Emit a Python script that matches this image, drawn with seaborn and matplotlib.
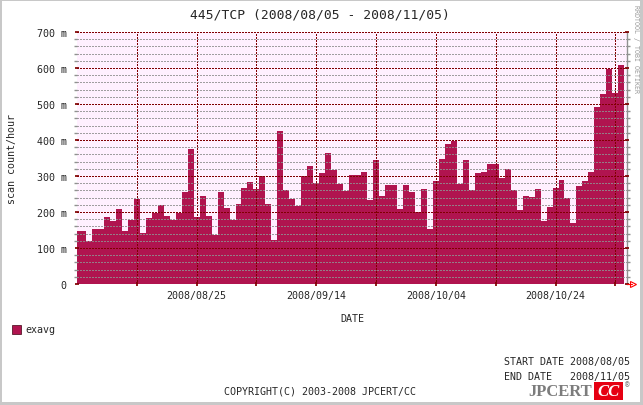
import numpy as np
import pandas as pd
import matplotlib
matplotlib.use("Agg")
import matplotlib.pyplot as plt
import seaborn as sns
from matplotlib.patches import Rectangle
from matplotlib.lines import Line2D

# daily averages, 2008/08/05 .. 2008/11/04 (milli scans per hour)
start_date = "2008-08-05"
exavg = [147, 147, 120, 153, 153, 186, 176, 208, 147, 178,
         236, 142, 183, 197, 219, 189, 179, 197, 256, 376,
         186, 245, 189, 137, 256, 211, 179, 222, 267, 284,
         264, 299, 222, 121, 425, 262, 236, 217, 299, 329,
         280, 309, 364, 316, 277, 257, 304, 302, 312, 234,
         345, 245, 276, 276, 208, 276, 256, 200, 264, 153,
         287, 348, 390, 396, 279, 345, 262, 309, 312, 332,
         334, 295, 320, 260, 206, 245, 241, 264, 176, 214,
         267, 289, 240, 170, 273, 287, 312, 493, 527, 598,
         530, 608]
date_labels = ["2008/08/25", "2008/09/14", "2008/10/04", "2008/10/24"]
y_ticks = [0, 100, 200, 300, 400, 500, 600, 700]

dates = pd.date_range(start_date, periods=len(exavg), freq="D")
df = pd.DataFrame({"date": dates, "exavg": exavg})
df["day"] = (df["date"] - df["date"].iloc[0]).dt.days

BAR = "#b0144f"
MAJ = "#800000"
MINOR = "#909090"
W, H = 643, 406

sns.set_theme(style="white")
plt.rcParams["font.family"] = ["DejaVu Sans Mono", "DejaVu Sans"]
plt.rcParams["font.size"] = 7.2

fig = plt.figure(figsize=(W / 100, H / 100), dpi=100)
fig.patch.set_facecolor("white")

# grey frame round the picture
for (x0, y0, w, h) in [(0, 0, W, 3), (0, H - 2, W, 2), (0, 0, 2, H), (W - 3, 0, 3, H)]:
    fig.add_artist(Rectangle((x0 / W, y0 / H), w / W, h / H, transform=fig.transFigure,
                             facecolor="#c8c8c8", edgecolor="none"))

ax = fig.add_axes([77 / W, (H - 285) / H, 550.3 / W, 252 / H])
ax.set_facecolor("#fff0ff")

sns.barplot(data=df, x="day", y="exavg", native_scale=True, width=1, color=BAR,
            saturation=1, linewidth=0, edgecolor="none", errorbar=None, ax=ax)

ax.set_xlim(0, 92)
ax.set_ylim(0, 700)

# grid drawn on top of the bars, like rrdtool
ax.set_axisbelow(False)
ax.set_yticks(y_ticks)
ax.set_yticklabels([("%d m" % v) if v else "0" for v in y_ticks])
ax.set_yticks(np.arange(0, 701, 20), minor=True)
major_days = list(range(10, 92, 10))
ax.set_xticks(major_days)
lab = {20 + 20 * i: t for i, t in enumerate(date_labels)}
ax.set_xticklabels([lab.get(d, "") for d in major_days])
ax.grid(which="major", axis="both", color=MAJ, linestyle=(0, (1, 1)), linewidth=0.75,
        antialiased=False)
ax.grid(which="minor", axis="y", color=MINOR, linestyle=(0, (1, 1)), linewidth=0.75,
        antialiased=False, alpha=0.85)

ax.tick_params(axis="y", which="major", length=3, color=MAJ, pad=6, labelsize=7.2,
               left=True, right=True, direction="inout")
ax.tick_params(axis="y", which="minor", length=2, color=MINOR, left=True, right=True)
ax.tick_params(axis="x", which="major", length=3, color=MAJ, pad=3, labelsize=7.2,
               bottom=True, direction="inout")
ax.set_xlabel("DATE", fontsize=7.2, labelpad=9)
ax.set_ylabel("scan count/hour", fontsize=7.2, labelpad=14)
for s in ["top", "bottom", "left"]:
    ax.spines[s].set_visible(False)
ax.spines["right"].set_color("#909090")
ax.spines["right"].set_linewidth(1)

# small red arrow at the end of the time axis
fig.add_artist(Line2D([627 / W, 632 / W], [(H - 285) / H] * 2, transform=fig.transFigure,
                      color="red", linewidth=0.8))
fig.add_artist(Line2D([633 / W], [(H - 285) / H], transform=fig.transFigure, marker=">",
                      markersize=5, mfc="none", mec="red", mew=0.8))

fig.text(320 / W, 1 - 15 / H, "445/TCP (2008/08/05 - 2008/11/05)", ha="center", va="center",
         fontsize=9.4)
fig.text(636 / W, 1 - 5 / H, "RRDTOOL / TOBI OETIKER", rotation=270, ha="center", va="top",
         fontsize=4.8, color="#9a9a9a")

# legend
fig.add_artist(Rectangle((12 / W, 1 - 335 / H), 9 / W, 9 / H, transform=fig.transFigure,
                         facecolor=BAR, edgecolor="#400010", linewidth=0.5))
fig.text(25 / W, 1 - 330 / H, "exavg", ha="left", va="center", fontsize=7.2)

fig.text(504 / W, 1 - 362 / H, "START DATE 2008/08/05", ha="left", va="center", fontsize=7.2)
fig.text(504 / W, 1 - 377 / H, "END DATE   2008/11/05", ha="left", va="center", fontsize=7.2)
fig.text(320 / W, 1 - 392 / H, "COPYRIGHT(C) 2003-2008 JPCERT/CC", ha="center", va="center",
         fontsize=7.2)

# JPCERT/CC logo
fig.text(592 / W, 1 - 392 / H, "JPCERT", ha="right", va="center", fontsize=12,
         family="Liberation Serif", weight="bold", color="#7c7c7c")
fig.add_artist(Rectangle((594 / W, 1 - 401 / H), 29 / W, 18 / H, transform=fig.transFigure,
                         facecolor="#e60012", edgecolor="none"))
fig.text(608.5 / W, 1 - 392 / H, "CC", ha="center", va="center", fontsize=12,
         family="Liberation Serif", weight="bold", style="italic", color="white")
fig.text(627 / W, 1 - 385 / H, "\u00ae", ha="center", va="center", fontsize=5.5,
         color="#7c7c7c")

fig.savefig("out.png", dpi=100)
